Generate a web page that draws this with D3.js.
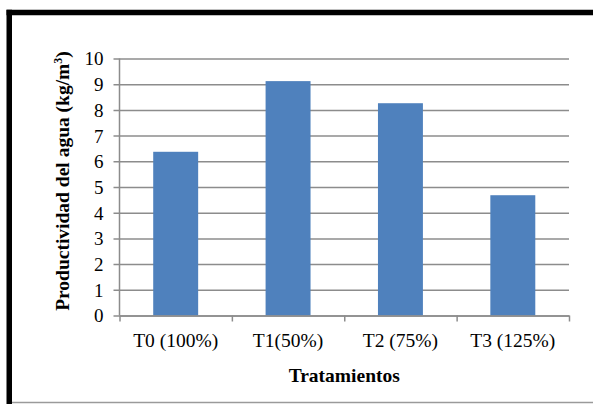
<!DOCTYPE html>
<html>
<head>
<meta charset="utf-8">
<script src="https://cdn.jsdelivr.net/npm/d3@7"></script>
<style>
  html, body { margin: 0; padding: 0; background: #fff; }
  svg { display: block; }
</style>
</head>
<body>
<svg id="chart" width="593" height="404"></svg>
<script>
// Water productivity per irrigation treatment
const categories = ["T0 (100%)", "T1(50%)", "T2 (75%)", "T3 (125%)"];
const values = [6.37, 9.12, 8.26, 4.68];
const yTicks = [0, 1, 2, 3, 4, 5, 6, 7, 8, 9, 10];
const xTitle = "Tratamientos";
const yTitle = "Productividad del agua (kg/m";

const FONT = "Liberation Serif, DejaVu Serif, serif";

const svg = d3.select("#chart");
const W = 593, H = 404;
const plot = { left: 119.5, right: 569, top: 58.5, bottom: 315.5 };

const x = d3.scaleBand().domain(categories).range([plot.left, plot.right]).paddingInner(0.6).paddingOuter(0.3);
const y = d3.scaleLinear().domain([0, 10]).range([plot.bottom, plot.top]);

const gridColor = "#8c8c8c";

// outer frame: heavy black top and left edges, thin grey bottom edge
svg.append("line").attr("x1", 12).attr("x2", W).attr("y1", 402.5).attr("y2", 402.5)
  .attr("stroke", "#9a9a9a").attr("stroke-width", 1.5);
svg.append("line").attr("x1", 6.5).attr("x2", W).attr("y1", 12.5).attr("y2", 12.5)
  .attr("stroke", "#000").attr("stroke-width", 5.5);
svg.append("line").attr("x1", 9.25).attr("x2", 9.25).attr("y1", 9.75).attr("y2", H)
  .attr("stroke", "#000").attr("stroke-width", 5.5);

// horizontal gridlines with left tick marks
const yAxis = d3.axisLeft(y).tickValues(yTicks).tickFormat(d3.format("d"))
  .tickSize(-(plot.right - plot.left)).tickPadding(16);
const gy = svg.append("g").attr("transform", `translate(${plot.left},0)`).call(yAxis);
gy.attr("font-family", null).attr("font-size", null);
gy.select(".domain").remove();
gy.selectAll(".tick line").attr("stroke", gridColor).attr("stroke-width", 1.5).attr("x1", -6);
gy.selectAll(".tick text").attr("fill", "#000").attr("dy", "0.34em")
  .style("font-family", FONT).style("font-size", "19px");

// bars
svg.append("g").selectAll("rect").data(values).join("rect")
  .attr("x", (d, i) => x(categories[i]))
  .attr("width", x.bandwidth())
  .attr("y", d => y(d))
  .attr("height", d => y(0) - y(d))
  .attr("fill", "#4f81bd");

// vertical axis line
svg.append("line").attr("x1", plot.left).attr("x2", plot.left)
  .attr("y1", plot.top).attr("y2", plot.bottom)
  .attr("stroke", gridColor).attr("stroke-width", 1.5);

// category axis: baseline, boundary ticks and labels
const xb = d3.scaleLinear().domain([0, categories.length]).range([plot.left, plot.right]);
const xAxis = d3.axisBottom(xb).tickValues(d3.range(categories.length + 1)).tickFormat("").tickSize(6).tickSizeOuter(0);
const gx = svg.append("g").attr("transform", `translate(0,${plot.bottom})`).call(xAxis);
gx.select(".domain").attr("stroke", gridColor).attr("stroke-width", 1.5);
gx.selectAll(".tick line").attr("stroke", gridColor).attr("stroke-width", 1.5);

svg.append("g").selectAll("text").data(categories).join("text")
  .attr("x", d => x(d) + x.bandwidth() / 2)
  .attr("y", 346.5)
  .attr("text-anchor", "middle")
  .style("font-family", FONT)
  .style("font-size", "19.5px")
  .text(d => d);

// axis titles
svg.append("text")
  .attr("x", (plot.left + plot.right) / 2).attr("y", 381.5)
  .attr("text-anchor", "middle")
  .style("font-family", FONT).style("font-size", "19.5px").style("font-weight", "bold")
  .text(xTitle);

const yt = svg.append("text")
  .attr("transform", `translate(69,${(plot.top + plot.bottom) / 2 - 6}) rotate(-90)`)
  .attr("text-anchor", "middle")
  .style("font-family", FONT).style("font-size", "19.5px").style("font-weight", "bold");
yt.append("tspan").text(yTitle);
yt.append("tspan").style("font-size", "12px").attr("dy", -7).text("3");
yt.append("tspan").attr("dy", 7).text(")");
</script>
</body>
</html>
